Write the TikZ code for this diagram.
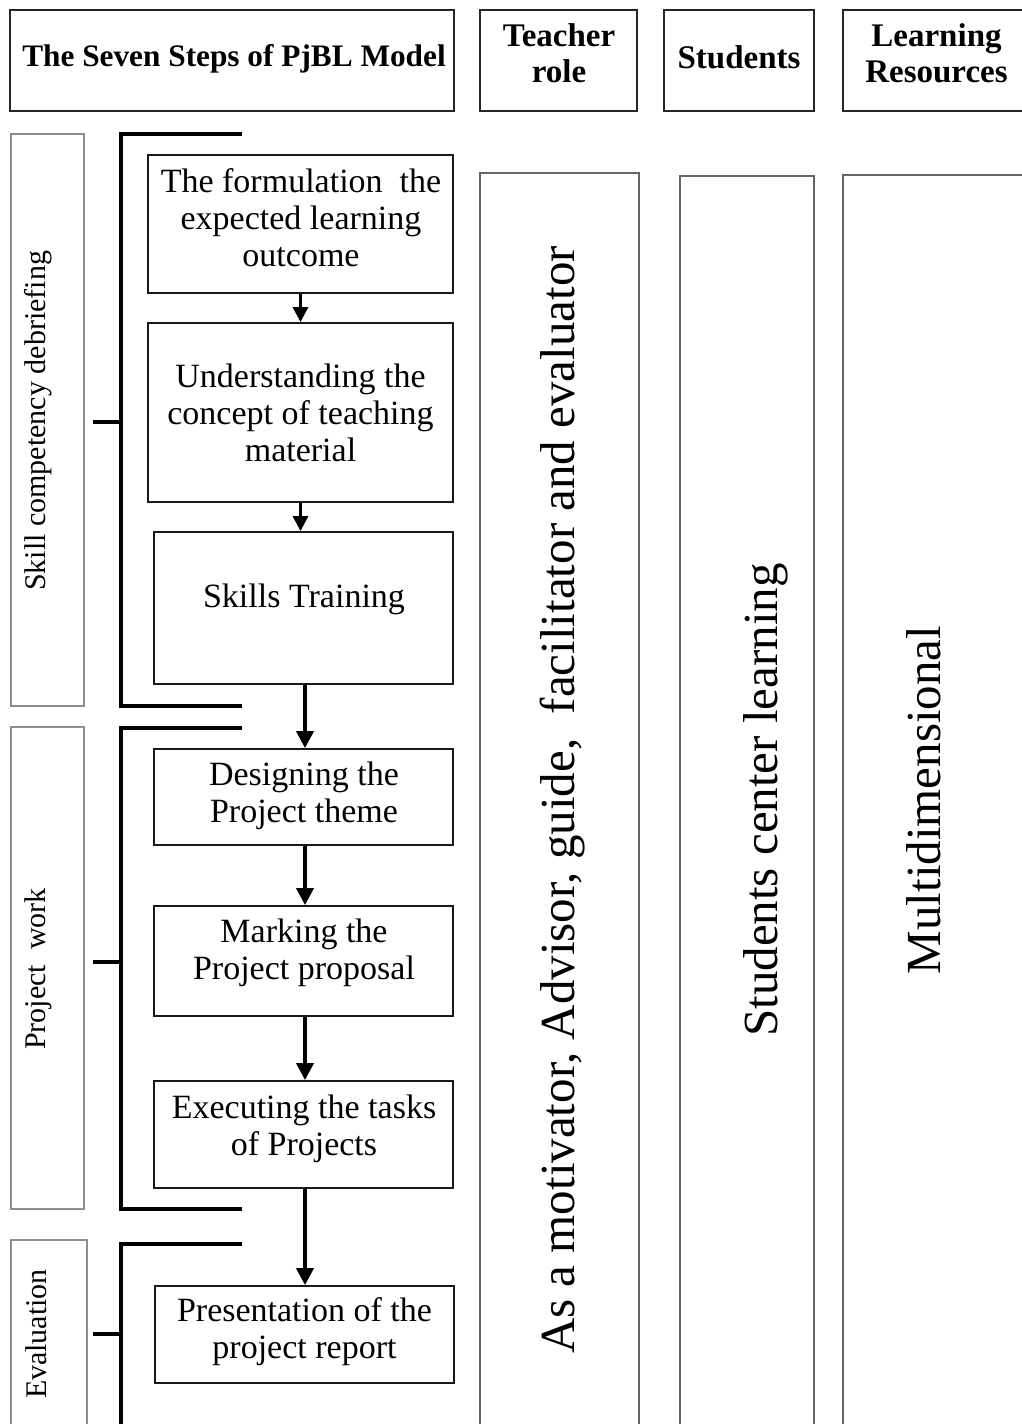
\documentclass[tikz,border=0pt]{standalone}
\usepackage{fontspec}
\setmainfont{Liberation Serif}
\usetikzlibrary{arrows.meta}
\tikzset{
  hdr/.style={draw=black!85,line width=2.2pt,inner sep=0pt},
  hdrtext/.style={inner sep=0pt,align=center,font=\fontsize{33}{36}\selectfont\bfseries},
  stepbox/.style={draw=black!90,line width=1.8pt,inner sep=0pt},
  steptext/.style={inner sep=0pt,align=center,font=\fontsize{34}{37}\selectfont},
  phasebox/.style={draw=black!45,line width=1.5pt,inner sep=0pt},
  phasetext/.style={inner sep=0pt,rotate=90,font=\fontsize{30}{34}\selectfont},
  colbox/.style={draw=black!60,line width=1.8pt,inner sep=0pt},
  coltext/.style={inner sep=0pt,rotate=90,font=\fontsize{49}{55}\selectfont},
  brk/.style={line width=4pt},
  flow/.style={line width=3.8pt,-{Triangle[length=17pt,width=17pt]}},
  sflow/.style={line width=3pt,-{Triangle[length=15pt,width=15pt]}}
}
\begin{document}
\begin{tikzpicture}[x=1pt,y=-1pt]
\useasboundingbox (0,0) rectangle (1022,1424);
\clip (0,0) rectangle (1022,1424);
\fill[white] (0,0) rectangle (1022,1424);
% headers
\node[hdr,minimum width=444pt,minimum height=101pt] (h1) at (232,60.5) {};
\node[hdrtext,font=\fontsize{31.3}{36}\selectfont\bfseries] (h1t) at (234,59) {The Seven Steps of PjBL Model};
\node[hdr,minimum width=157pt,minimum height=101pt] (h2) at (558.5,60.5) {};
\node[hdrtext] (h2t) at (559,53) {Teacher\\role};
\node[hdr,minimum width=150pt,minimum height=101pt] (h3) at (739,60.5) {};
\node[hdrtext] (h3t) at (739,57) {Students};
\node[hdr,minimum width=190pt,minimum height=101pt,anchor=west] (h4) at (842,60.5) {};
\node[hdrtext] (h4t) at (936.5,53) {Learning\\Resources};
% phase boxes
\node[phasebox,minimum width=73pt,minimum height=572pt] (p1) at (47.5,420) {};
\node[phasetext] (p1t) at (38,421) {Skill competency debriefing};
\node[phasebox,minimum width=73pt,minimum height=482pt] (p2) at (47.5,968) {};
\node[phasetext] (p2t) at (38,969) {Project\ \ work};
\node[phasebox,minimum width=76pt,minimum height=220pt] (p3) at (49,1350) {};
\node[phasetext] (p3t) at (36,1334) {Evaluation};
% brackets
\coordinate (b1a) at (242,134); \coordinate (b1b) at (121,134);
\coordinate (b1c) at (121,706); \coordinate (b1d) at (242,706);
\coordinate (b1t) at (93,422); \coordinate (b1m) at (121,422);
\draw[brk] (b1a) -- (b1b) -- (b1c) -- (b1d);
\draw[brk] (b1t) -- (b1m);
\coordinate (b2a) at (242,728); \coordinate (b2b) at (121,728);
\coordinate (b2c) at (121,1209); \coordinate (b2d) at (242,1209);
\coordinate (b2t) at (93,962); \coordinate (b2m) at (121,962);
\draw[brk] (b2a) -- (b2b) -- (b2c) -- (b2d);
\draw[brk] (b2t) -- (b2m);
\coordinate (b3a) at (242,1244); \coordinate (b3b) at (121,1244);
\coordinate (b3c) at (121,1440);
\coordinate (b3t) at (93,1334); \coordinate (b3m) at (121,1334);
\draw[brk] (b3a) -- (b3b) -- (b3c);
\draw[brk] (b3t) -- (b3m);
% steps
\node[stepbox,minimum width=305pt,minimum height=138pt] (s1) at (300.5,224) {};
\node[steptext] (s1t) at (301,217.5) {The formulation\ \ the\\expected learning\\outcome};
\node[stepbox,minimum width=305pt,minimum height=179pt] (s2) at (300.5,412.5) {};
\node[steptext] (s2t) at (300.5,412.5) {Understanding the\\concept of teaching\\material};
\node[stepbox,minimum width=299pt,minimum height=152pt] (s3) at (303.5,608) {};
\node[steptext] (s3t) at (304,599.5) {Skills Training};
\node[stepbox,minimum width=299pt,minimum height=96pt] (s4) at (303.5,797) {};
\node[steptext] (s4t) at (304,795.5) {Designing the\\Project theme};
\node[stepbox,minimum width=299pt,minimum height=110pt] (s5) at (303.5,961) {};
\node[steptext] (s5t) at (304,953) {Marking the\\Project proposal};
\node[stepbox,minimum width=299pt,minimum height=107pt] (s6) at (303.5,1134.5) {};
\node[steptext] (s6t) at (304,1128.5) {Executing the tasks\\of Projects};
\node[stepbox,minimum width=299pt,minimum height=97pt] (s7) at (304.5,1334.5) {};
\node[steptext] (s7t) at (304.5,1332) {Presentation of the\\project report};
% arrows
\draw[sflow] (s1.south) -- (s2.north);
\draw[sflow] (s2.south) -- (s2.south |- s3.north);
\draw[flow] ([xshift=1.5pt]s3.south) -- ([xshift=1.5pt]s3.south |- s4.north);
\draw[flow] ([xshift=1.5pt]s4.south) -- ([xshift=1.5pt]s4.south |- s5.north);
\draw[flow] ([xshift=1.5pt]s5.south) -- ([xshift=1.5pt]s5.south |- s6.north);
\draw[flow] ([xshift=1.5pt]s6.south) -- ([xshift=1.5pt]s6.south |- s7.north);
% columns
\node[colbox,minimum width=159pt,minimum height=1280pt,anchor=north] (c1) at (559.5,172) {};
\node[coltext] (c1t) at (562.5,800) {As a motivator, Advisor, guide,\ \ facilitator and evaluator};
\node[colbox,minimum width=134pt,minimum height=1280pt,anchor=north] (c2) at (747,175) {};
\node[coltext] (c2t) at (766,800) {Students center learning};
\node[colbox,minimum width=200pt,minimum height=1280pt,anchor=north west] (c3) at (842,174) {};
\node[coltext] (c3t) at (924,800) {Multidimensional};
\end{tikzpicture}
\end{document}
